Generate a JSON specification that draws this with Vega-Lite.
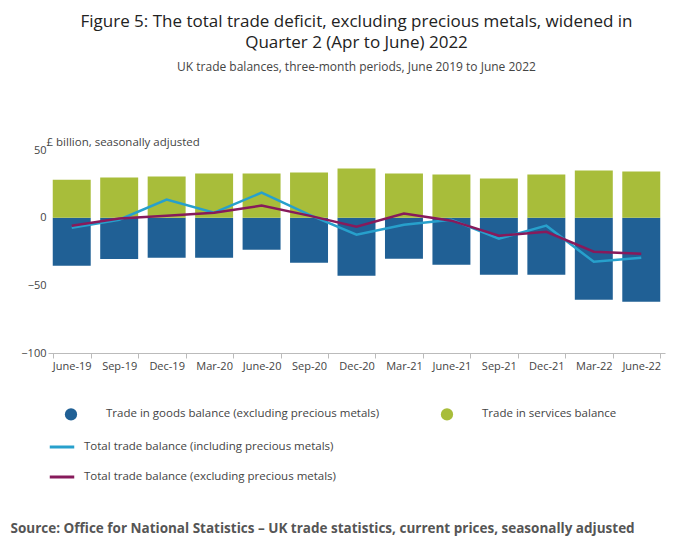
{
  "$schema": "https://vega.github.io/schema/vega-lite/v6.json",
  "autosize": "none",
  "width": 617,
  "height": 203,
  "padding": {"left": 48, "top": 150, "right": 35, "bottom": 196},
  "background": "white",
  "title": {
    "text": ["Figure 5: The total trade deficit, excluding precious metals, widened in", "Quarter 2 (Apr to June) 2022"],
    "subtitle": "UK trade balances, three-month periods, June 2019 to June 2022",
    "anchor": "middle",
    "offset": 62,
    "font": "Open Sans",
    "fontSize": 17,
    "fontWeight": "normal",
    "color": "#222222",
    "lineHeight": 21,
    "subtitleFont": "Open Sans",
    "subtitleFontSize": 12,
    "subtitleColor": "#444444",
    "subtitlePadding": 10
  },
  "datasets": {
    "bars": [
      {"period": "June-19", "series": "Trade in goods balance (excluding precious metals)", "value": -35.5},
      {"period": "Sep-19", "series": "Trade in goods balance (excluding precious metals)", "value": -30.5},
      {"period": "Dec-19", "series": "Trade in goods balance (excluding precious metals)", "value": -29.6},
      {"period": "Mar-20", "series": "Trade in goods balance (excluding precious metals)", "value": -29.6},
      {"period": "June-20", "series": "Trade in goods balance (excluding precious metals)", "value": -23.7},
      {"period": "Sep-20", "series": "Trade in goods balance (excluding precious metals)", "value": -33.3},
      {"period": "Dec-20", "series": "Trade in goods balance (excluding precious metals)", "value": -43.0},
      {"period": "Mar-21", "series": "Trade in goods balance (excluding precious metals)", "value": -30.4},
      {"period": "June-21", "series": "Trade in goods balance (excluding precious metals)", "value": -34.8},
      {"period": "Sep-21", "series": "Trade in goods balance (excluding precious metals)", "value": -42.2},
      {"period": "Dec-21", "series": "Trade in goods balance (excluding precious metals)", "value": -42.2},
      {"period": "Mar-22", "series": "Trade in goods balance (excluding precious metals)", "value": -60.7},
      {"period": "June-22", "series": "Trade in goods balance (excluding precious metals)", "value": -62.2},
      {"period": "June-19", "series": "Trade in services balance", "value": 28.0},
      {"period": "Sep-19", "series": "Trade in services balance", "value": 29.6},
      {"period": "Dec-19", "series": "Trade in services balance", "value": 30.4},
      {"period": "Mar-20", "series": "Trade in services balance", "value": 32.6},
      {"period": "June-20", "series": "Trade in services balance", "value": 32.6},
      {"period": "Sep-20", "series": "Trade in services balance", "value": 33.3},
      {"period": "Dec-20", "series": "Trade in services balance", "value": 36.3},
      {"period": "Mar-21", "series": "Trade in services balance", "value": 32.6},
      {"period": "June-21", "series": "Trade in services balance", "value": 31.9},
      {"period": "Sep-21", "series": "Trade in services balance", "value": 28.9},
      {"period": "Dec-21", "series": "Trade in services balance", "value": 31.9},
      {"period": "Mar-22", "series": "Trade in services balance", "value": 34.8},
      {"period": "June-22", "series": "Trade in services balance", "value": 34.1}
    ],
    "lines": [
      {"period": "June-19", "series": "Total trade balance (including precious metals)", "value": -7.4},
      {"period": "Sep-19", "series": "Total trade balance (including precious metals)", "value": -1.5},
      {"period": "Dec-19", "series": "Total trade balance (including precious metals)", "value": 13.3},
      {"period": "Mar-20", "series": "Total trade balance (including precious metals)", "value": 3.7},
      {"period": "June-20", "series": "Total trade balance (including precious metals)", "value": 18.5},
      {"period": "Sep-20", "series": "Total trade balance (including precious metals)", "value": 2.2},
      {"period": "Dec-20", "series": "Total trade balance (including precious metals)", "value": -12.6},
      {"period": "Mar-21", "series": "Total trade balance (including precious metals)", "value": -5.2},
      {"period": "June-21", "series": "Total trade balance (including precious metals)", "value": -1.5},
      {"period": "Sep-21", "series": "Total trade balance (including precious metals)", "value": -15.6},
      {"period": "Dec-21", "series": "Total trade balance (including precious metals)", "value": -5.9},
      {"period": "Mar-22", "series": "Total trade balance (including precious metals)", "value": -32.6},
      {"period": "June-22", "series": "Total trade balance (including precious metals)", "value": -29.6},
      {"period": "June-19", "series": "Total trade balance (excluding precious metals)", "value": -5.9},
      {"period": "Sep-19", "series": "Total trade balance (excluding precious metals)", "value": -0.7},
      {"period": "Dec-19", "series": "Total trade balance (excluding precious metals)", "value": 1.5},
      {"period": "Mar-20", "series": "Total trade balance (excluding precious metals)", "value": 3.7},
      {"period": "June-20", "series": "Total trade balance (excluding precious metals)", "value": 8.9},
      {"period": "Sep-20", "series": "Total trade balance (excluding precious metals)", "value": 1.5},
      {"period": "Dec-20", "series": "Total trade balance (excluding precious metals)", "value": -6.7},
      {"period": "Mar-21", "series": "Total trade balance (excluding precious metals)", "value": 3.0},
      {"period": "June-21", "series": "Total trade balance (excluding precious metals)", "value": -2.2},
      {"period": "Sep-21", "series": "Total trade balance (excluding precious metals)", "value": -13.3},
      {"period": "Dec-21", "series": "Total trade balance (excluding precious metals)", "value": -10.4},
      {"period": "Mar-22", "series": "Total trade balance (excluding precious metals)", "value": -25.2},
      {"period": "June-22", "series": "Total trade balance (excluding precious metals)", "value": -26.7}
    ]
  },
  "encoding": {
    "x": {
      "field": "period",
      "type": "nominal",
      "sort": null,
      "scale": {"paddingInner": 0.2, "paddingOuter": 0.1},
      "axis": {
        "labelAngle": 0,
        "tickBand": "extent",
        "domainColor": "#bbbbbb",
        "tickColor": "#bbbbbb",
        "title": "Source: Office for National Statistics – UK trade statistics, current prices, seasonally adjusted",
        "titleFont": "Open Sans",
        "titleFontSize": 13.5,
        "titleFontWeight": "bold",
        "titleColor": "#555555",
        "titleAnchor": "start",
        "titleAlign": "left",
        "titleX": -38,
        "titleY": 168
      }
    },
    "y": {
      "field": "value",
      "type": "quantitative",
      "scale": {"domain": [-100, 50]},
      "axis": {
        "values": [-100, -50, 0, 50],
        "grid": false,
        "domain": false,
        "ticks": false,
        "title": "£ billion, seasonally adjusted",
        "titleAngle": 0,
        "titleAlign": "left",
        "titleFontWeight": "normal",
        "titleFont": "Open Sans",
        "titleFontSize": 11.5,
        "titleColor": "#444444",
        "titleX": -2,
        "titleY": -3
      }
    }
  },
  "layer": [
    {
      "data": {"name": "bars"},
      "mark": {"type": "bar"},
      "encoding": {
        "fill": {
          "field": "series",
          "type": "nominal",
          "scale": {
            "domain": ["Trade in goods balance (excluding precious metals)", "Trade in services balance"],
            "range": ["#206095", "#a8bd3a"]
          },
          "legend": {
            "title": null,
            "orient": "none",
            "legendX": 16,
            "legendY": 257,
            "columns": 2,
            "columnPadding": 60,
            "symbolType": "circle",
            "symbolSize": 150,
            "labelFontSize": 11.5,
            "labelFont": "Open Sans",
            "labelColor": "#444444",
            "labelOffset": 28,
            "labelLimit": 0
          }
        }
      }
    },
    {
      "data": {"name": "lines"},
      "mark": {"type": "line", "strokeWidth": 2.5},
      "encoding": {
        "stroke": {
          "field": "series",
          "type": "nominal",
          "scale": {
            "domain": ["Total trade balance (including precious metals)", "Total trade balance (excluding precious metals)"],
            "range": ["#27a0cc", "#871a5b"]
          },
          "legend": {
            "title": null,
            "orient": "none",
            "legendX": 0,
            "legendY": 283,
            "symbolType": "stroke",
            "symbolSize": 600,
            "symbolStrokeWidth": 3,
            "rowPadding": 10,
            "labelFontSize": 11.5,
            "labelFont": "Open Sans",
            "labelColor": "#444444",
            "labelOffset": 8,
            "labelLimit": 0
          }
        }
      }
    }
  ],
  "config": {
    "view": {"stroke": null},
    "axis": {"labelFont": "Open Sans", "labelFontSize": 11, "labelColor": "#444444"}
  }
}
